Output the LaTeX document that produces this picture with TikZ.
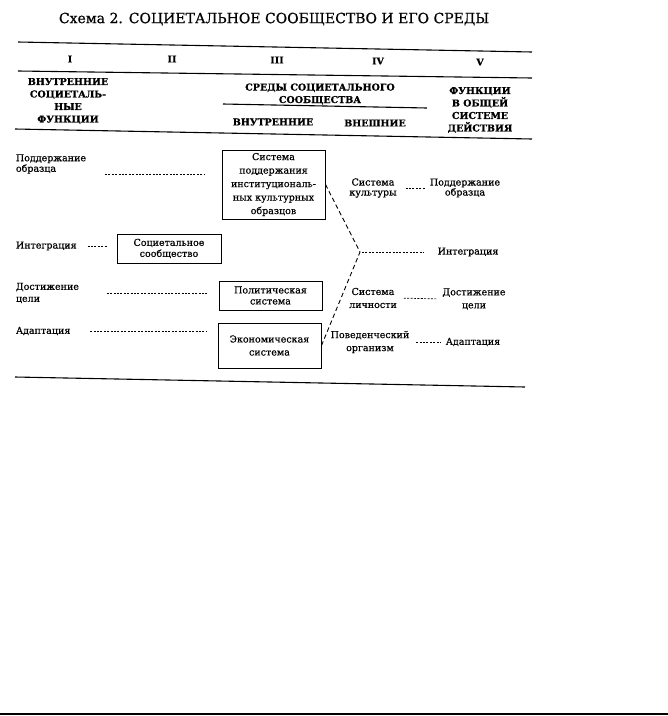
\documentclass[tikz,border=0pt]{standalone}
\usepackage{fontspec}
\setmainfont[FakeBold=0.6]{DejaVu Serif}
\usetikzlibrary{arrows,positioning}
\usetikzlibrary{calc}

\begin{document}
\begin{tikzpicture}[x=1pt,y=1pt,yscale=-1,xscale=1,
	txt/.style={font=\fontsize{9.5}{12}\selectfont, inner sep=0.75pt, align=center},
	hdr/.style={font=\fontsize{9.5}{12.5}\selectfont\bfseries, inner sep=0.75pt, align=center},
	num/.style={font=\fontsize{9.5}{10}\selectfont\bfseries, inner sep=0.75pt},
	box/.style={draw, line width=1pt, txt, minimum width=103pt},
	fine/.style={line width=0.7pt, dash pattern={on 2pt off 1.4pt}},
	coarse/.style={line width=0.9pt, dash pattern={on 4.5pt off 3pt}},
	rule/.style={line width=1.1pt}]
		\useasboundingbox (0,0) rectangle (668,716);
		
		% Text Node
		\draw (274,19) node (title) [font=\fontsize{14}{16}\selectfont] {Схема 2. СОЦИЕТАЛЬНОЕ СООБЩЕСТВО И ЕГО СРЕДЫ};
		
		%Straight Lines (table rules)
		\draw [rule] (18,42) -- (532,52) ;
		\draw [rule] (18,71) -- (532,78) ;
		\draw [rule] (223,104) -- (427,108) ;
		\draw [rule] (15,129) -- (532,139) ;
		\draw [rule] (15,377) -- (525,387) ;
		\draw [line width=1.2pt] (0,714) -- (668,714) ;
		
		% Text Node
		\draw (70,59) node (cI) [num] {I};
		\draw (172,59) node (cII) [num] {II};
		\draw (277,60) node (cIII) [num] {III};
		\draw (378,61) node (cIV) [num] {IV};
		\draw (480,62) node (cV) [num] {V};
		
		% Text Node
		\draw (68,101) node (hfunc) [hdr] {ВНУТРЕННИЕ\\СОЦИЕТАЛЬ-\\НЫЕ\\ФУНКЦИИ};
		\draw (320,94) node (hsreda) [hdr] {СРЕДЫ СОЦИЕТАЛЬНОГО\\СООБЩЕСТВА};
		\draw (273,122) node (hvnutr) [hdr] {ВНУТРЕННИЕ};
		\draw (375,123) node (hvnesh) [hdr] {ВНЕШНИЕ};
		\draw (480,110) node (hobsh) [hdr] {ФУНКЦИИ\\В ОБЩЕЙ\\СИСТЕМЕ\\ДЕЙСТВИЯ};
		
		% Text Node (column I)
		\draw (15,164) node (podI) [txt, anchor=west, align=left, font=\fontsize{9.5}{10.5}\selectfont] {Поддержание\\образца};
		\draw (15,246) node (integI) [txt, anchor=west] {Интеграция};
		\draw (15,293) node (dostI) [txt, anchor=west, align=left] {Достижение\\цели};
		\draw (15,331) node (adapI) [txt, anchor=west] {Адаптация};
		
		% Shapes: boxes (columns II and III)
		\draw (273.5,184.5) node (kult) [box, minimum height=69pt, font=\fontsize{9.5}{13.5}\selectfont] {Система\\поддержания\\институциональ-\\ных культурных\\образцов};
		\draw (169,248.5) node (soc) [box, minimum width=104pt, minimum height=29pt, font=\fontsize{9.5}{11}\selectfont] {Социетальное\\сообщество};
		\draw (270.5,295.5) node (pol) [box, minimum height=29pt, font=\fontsize{9.5}{11}\selectfont] {Политическая\\система};
		\draw (269.5,345.5) node (eco) [box, minimum height=45pt, font=\fontsize{9.5}{13}\selectfont] {Экономическая\\система};
		
		% Text Node (column IV)
		\draw (373,188) node (kultIV) [txt, font=\fontsize{9.5}{10}\selectfont] {Система\\культуры};
		\draw (373,298) node (lichIV) [txt, font=\fontsize{9.5}{13}\selectfont] {Система\\личности};
		\draw (370,342) node (orgIV) [txt, font=\fontsize{9.5}{13}\selectfont] {Поведенческий\\организм};
		
		% Text Node (column V)
		\draw (465,188) node (podV) [txt, font=\fontsize{9.5}{10}\selectfont] {Поддержание\\образца};
		\draw (468,252) node (integV) [txt] {Интеграция};
		\draw (474,299) node (dostV) [txt, font=\fontsize{9.5}{13}\selectfont] {Достижение\\цели};
		\draw (473,342) node (adapV) [txt] {Адаптация};
		
		%Straight Lines (dashed, left)
		\draw [fine, shorten <=18pt, shorten >=17pt] (podI.south east) -- (kult.west |- podI.south east) ;
		\draw [fine, shorten <=10pt, shorten >=10pt] (integI.east) -- (soc.west |- integI.east) ;
		\draw [fine, shorten <=27pt, shorten >=12pt] (dostI.east) -- (pol.west |- dostI.east) ;
		\draw [fine, shorten <=19pt, shorten >=11pt] (adapI.east) -- (eco.west |- adapI.east) ;
		
		%Straight Lines (dashed, fork)
		\coordinate (fork) at (360,252) ;
		\draw [coarse] (kult.east) -- (fork) -- (eco.east) ;
		\draw [fine, shorten <=2pt, shorten >=13pt] (fork) -- (integV.west) ;
		
		%Straight Lines (dashed, right)
		\draw [fine, shorten <=8pt, shorten >=4pt] (kultIV.east) -- (podV.west) ;
		\draw [fine, shorten <=6pt, shorten >=4pt] (lichIV.east) -- (dostV.west) ;
		\draw [fine, shorten <=6pt, shorten >=4pt] (orgIV.east) -- (adapV.west) ;
		
\end{tikzpicture}
\end{document}
